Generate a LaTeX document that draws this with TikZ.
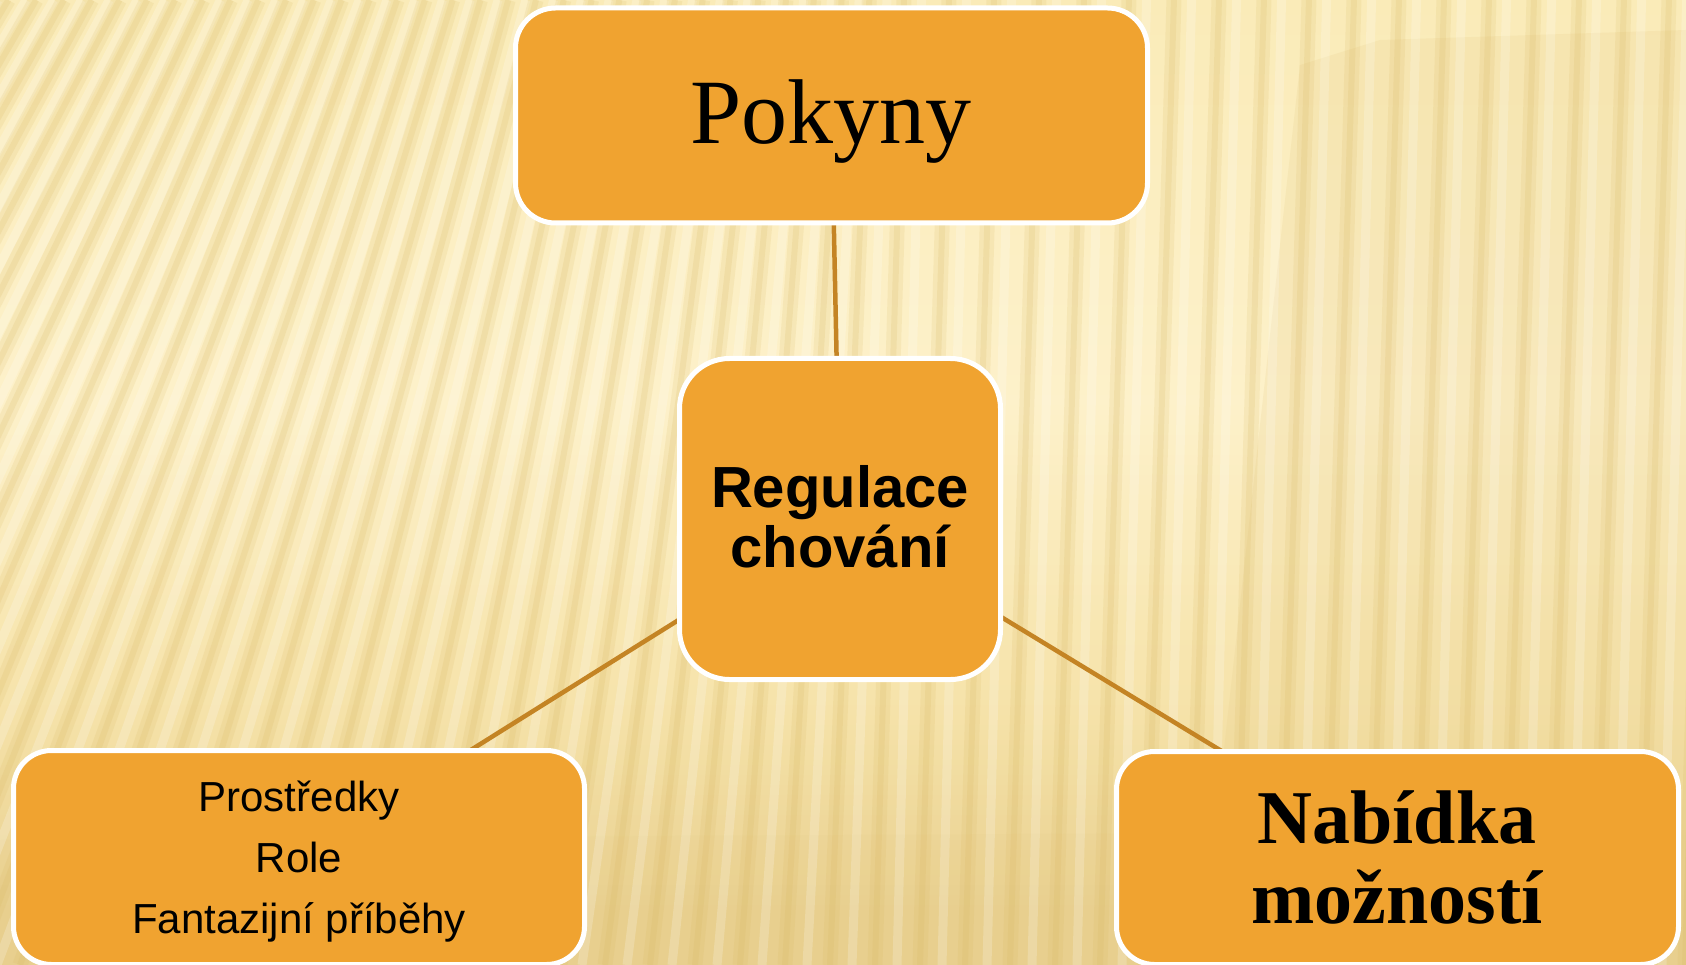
\documentclass[tikz,border=0pt]{standalone}
\usepackage{fontspec}
\setmainfont{Liberation Serif}
\newfontfamily\arialf{Liberation Sans}
\usetikzlibrary{calc}
\pgfdeclarelayer{bg}
\pgfdeclarelayer{conn}
\pgfsetlayers{bg,conn,main}
\definecolor{boxfill}{HTML}{F0A330}
\definecolor{connc}{HTML}{C48424}
\definecolor{bgA}{HTML}{FAEBB8}
\definecolor{bgB}{HTML}{FDF1CA}
\definecolor{bgC}{HTML}{F6E3AA}
\definecolor{bgD}{HTML}{E8CF8E}
\definecolor{stripe}{HTML}{D8B65E}
\begin{document}
\begin{tikzpicture}[x=1pt,y=-1pt,
  boxbase/.style={rectangle, fill=boxfill, draw=white, line width=5pt, inner sep=0pt},
  conline/.style={draw=connc, line width=4.5pt},
  lbl/.style={anchor=base, inner sep=0pt, text=black}
]
\useasboundingbox (0,0) rectangle (1686,965);

% nodes
\node[boxbase, rounded corners=40pt, minimum width=632pt, minimum height=215pt] (pok) at (831.5,115.5) {};
\node[boxbase, rounded corners=50pt, minimum width=321pt, minimum height=321pt] (reg) at (840,519) {};
\node[boxbase, rounded corners=38pt, minimum width=571pt, minimum height=214pt] (lft) at (299,857.5) {};
\node[boxbase, rounded corners=38pt, minimum width=562pt, minimum height=213pt] (rgt) at (1397.5,858) {};

\node[lbl, font=\fontsize{92}{110}\selectfont] (t1) at (831,144) {Pokyny};
\node[lbl, font=\arialf\bfseries\fontsize{58}{60}\selectfont] (t2a) at (840,507) {Regulace};
\node[lbl, font=\arialf\bfseries\fontsize{58}{60}\selectfont] (t2b) at (840,567) {chování};
\node[lbl, font=\arialf\fontsize{42}{61}\selectfont] (t3a) at (299,811) {Prostředky};
\node[lbl, font=\arialf\fontsize{42}{61}\selectfont] (t3b) at (299,872) {Role};
\node[lbl, font=\arialf\fontsize{42}{61}\selectfont] (t3c) at (299,933) {Fantazijní příběhy};
\node[lbl, font=\bfseries\fontsize{76}{80}\selectfont] (t4a) at (1397,843) {Nabídka};
\node[lbl, font=\bfseries\fontsize{76}{80}\selectfont] (t4b) at (1397,923) {možností};

% connectors
\begin{pgfonlayer}{conn}
\draw[conline] (pok.center) -- (reg.center);
\draw[conline] (reg.center) -- (lft.center);
\draw[conline] (reg.center) -- (rgt.center);
\end{pgfonlayer}

% background
\begin{pgfonlayer}{bg}
\begin{scope}
\clip (0,0) rectangle (1686,965);
\foreach \y in {0,5,...,395}{
  \pgfmathsetmacro\p{\y/4}
  \fill[bgB!\p!bgA] (0,\y) rectangle (1686,\y+5.6);
}
\foreach \y in {400,405,...,695}{
  \pgfmathsetmacro\p{(\y-400)/3}
  \fill[bgC!\p!bgB] (0,\y) rectangle (1686,\y+5.6);
}
\foreach \y in {700,705,...,965}{
  \pgfmathsetmacro\p{min(100,(\y-700)/2.2)}
  \fill[bgD!\p!bgC] (0,\y) rectangle (1686,\y+5.6);
}
\fill[bgD, opacity=0.22] (1300,65) -- (1380,40) -- (1686,30) -- (1686,965) -- (1200,965) -- cycle;
\fill[bgD, opacity=0.18] (0,840) -- (1686,830) -- (1686,965) -- (0,965) -- cycle;
\foreach \b in {-700,-655,...,1900}{
  \pgfmathsetmacro\s{max(0.03,0.37-0.0004*\b)}
  \pgfmathsetmacro\t{\b+\s*965}
  \draw[stripe, line width=15pt, opacity=0.15] (\b,965) -- (\t,0);
  \draw[stripe, line width=6pt, opacity=0.17] (\b,965) -- (\t,0);
  \draw[white, line width=9pt, opacity=0.2] (\b+22,965) -- (\t+22*0.8,0);
}
\end{scope}
\end{pgfonlayer}
\end{tikzpicture}
\end{document}
